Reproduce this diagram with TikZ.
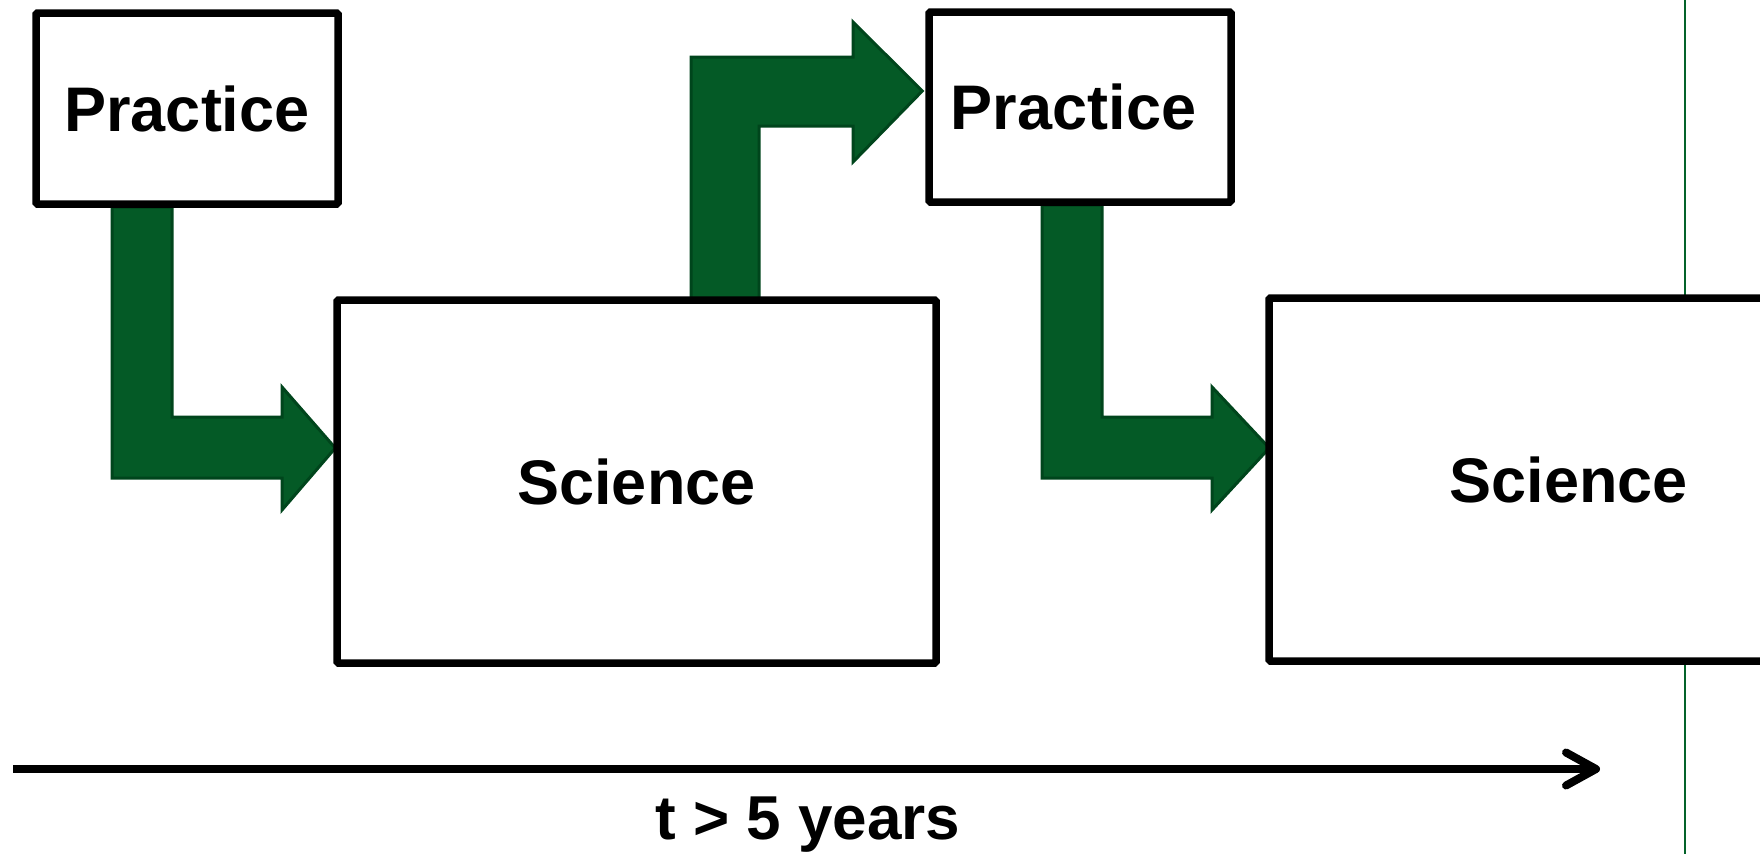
\documentclass[tikz,border=0pt]{standalone}
\usepackage{fontspec}
\setmainfont{Liberation Sans}
\usetikzlibrary{arrows.meta,backgrounds}
\definecolor{arrowfill}{HTML}{045A26}
\definecolor{arrowline}{HTML}{00451C}
\definecolor{guide}{HTML}{04632A}
\begin{document}
\begin{tikzpicture}[x=1pt,y=-1pt,
  box/.style={draw=black,fill=white,line width=7.5pt,rounded corners=1.5pt,inner sep=0pt,
    font=\fontsize{63}{70}\selectfont\bfseries},
  blockarrow/.style={fill=arrowfill,draw=arrowline,line width=3pt,line join=miter},
  timeline/.style={line width=8pt,-{Straight Barb[length=30pt,width=33pt,round]}},
  timelabel/.style={font=\fontsize{62}{68}\selectfont\bfseries,inner sep=0pt}]
\useasboundingbox (0,0) rectangle (1760,854);
\clip (0,0) rectangle (1760,854);
% boxes
\node[box,minimum width=302pt,minimum height=191pt] (P1) at (187,108.5) {Practice};
\node[box,minimum width=599pt,minimum height=363pt] (S1) at (636.5,481.5) {Science};
\node[box,minimum width=302pt,minimum height=190pt] (P2) at (1080,107) {\hspace*{-13pt}Practice};
\node[box,minimum width=599pt,minimum height=363pt] (S2) at (1568.5,479.5) {Science};
\coordinate (y448) at (0,448);
\coordinate (y91) at (0,91);
\begin{scope}[on background layer]
  \coordinate (gtop) at (1685,0);
  \coordinate (gbot) at (1685,854);
  \draw[guide,line width=2pt] (gtop) -- (gbot);
  % Practice -> Science
  \draw[blockarrow] (112,207) -- (172,207) -- (172,417) -- (282,417) -- (282,387)
    -- ([xshift=2pt]S1.west |- y448) -- (282,510) -- (282,478) -- (112,478) -- cycle;
  % Science -> Practice
  \draw[blockarrow] (691,300) -- (691,57) -- (853,57) -- (853,22)
    -- ([xshift=-3pt]P2.west |- y91) -- (853,162) -- (853,126) -- (759,126) -- (759,300) -- cycle;
  % Practice -> Science
  \draw[blockarrow] (1042,205) -- (1102,205) -- (1102,417) -- (1212,417) -- (1212,387)
    -- ([xshift=4pt]S2.west |- y448) -- (1212,510) -- (1212,478) -- (1042,478) -- cycle;
\end{scope}
% time axis
\coordinate (ts) at (13,769);
\coordinate (te) at (1600,769);
\draw[timeline] (ts) -- (te);
\node[timelabel,anchor=base] (tl) at (808,839) {t > 5 years};
\end{tikzpicture}
\end{document}
